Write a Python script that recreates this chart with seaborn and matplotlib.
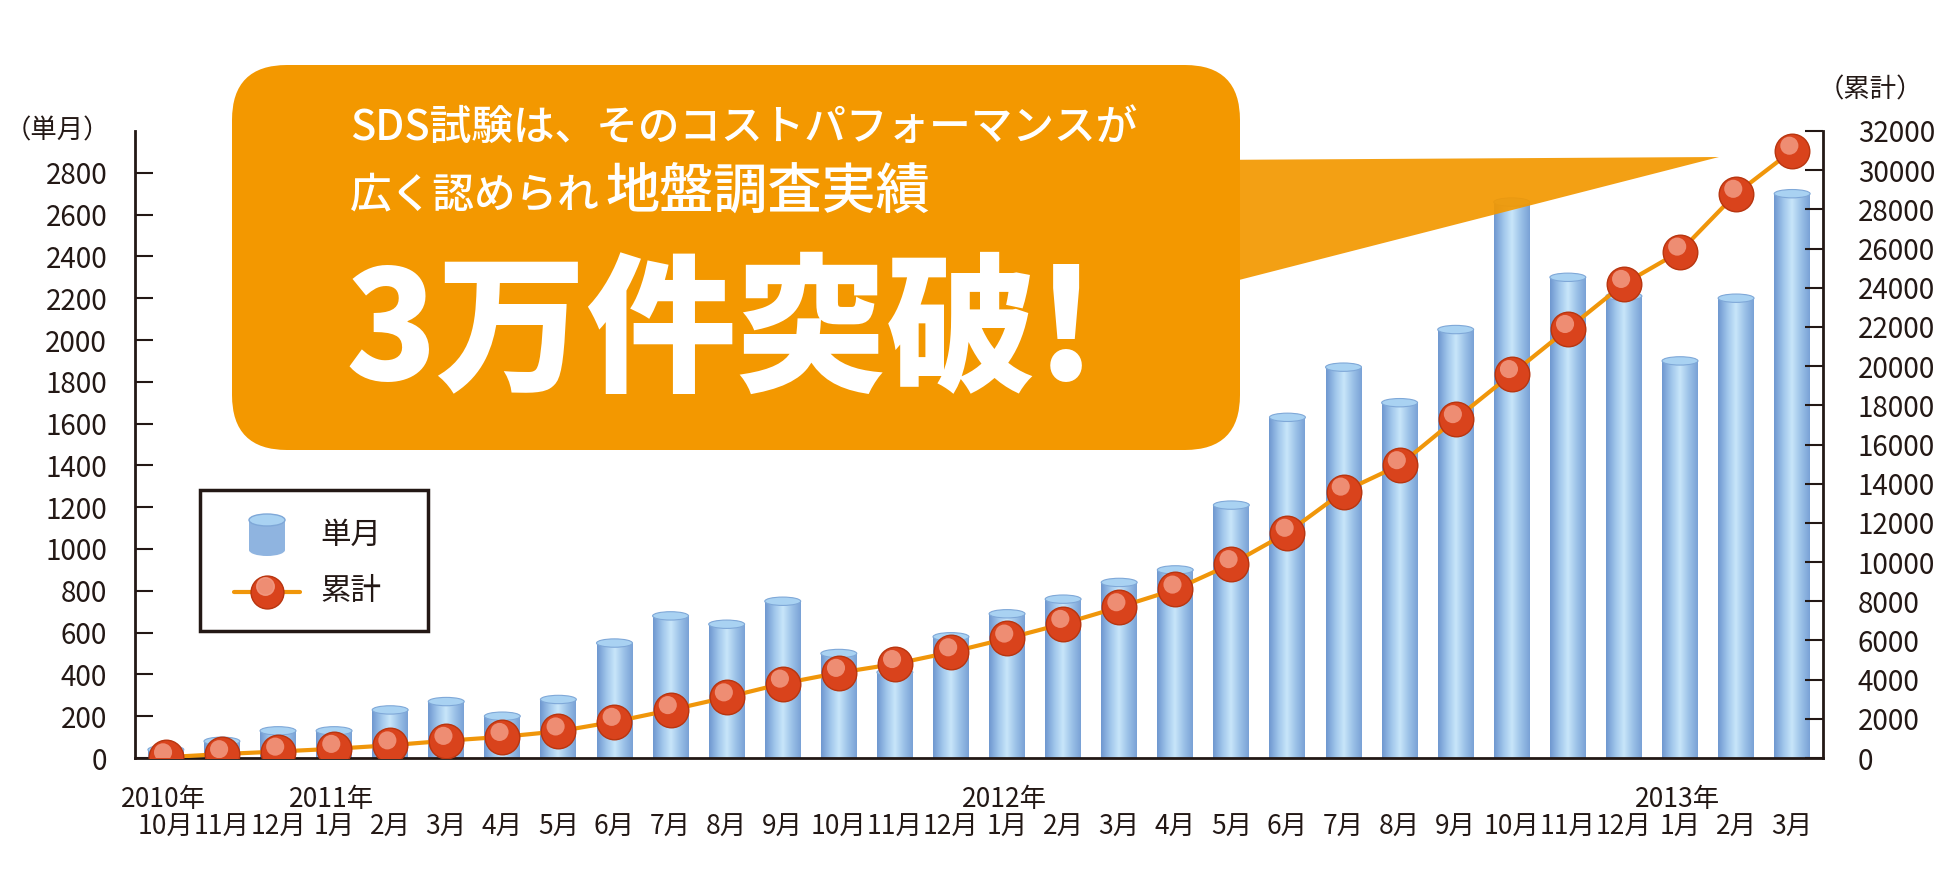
import numpy as np
import pandas as pd
import matplotlib
matplotlib.use("Agg")
import matplotlib.pyplot as plt
import seaborn as sns
from matplotlib.patches import Ellipse, FancyBboxPatch, Polygon, Rectangle
from matplotlib.colors import LinearSegmentedColormap

months = ["10月","11月","12月","1月","2月","3月","4月","5月","6月","7月","8月","9月",
          "10月","11月","12月","1月","2月","3月","4月","5月","6月","7月","8月","9月",
          "10月","11月","12月","1月","2月","3月"]
years = {0: "2010年", 3: "2011年", 15: "2012年", 27: "2013年"}
monthly = [40, 80, 130, 130, 230, 270, 200, 280, 550, 680, 640, 750, 500, 410, 580,
           690, 760, 840, 900, 1210, 1630, 1870, 1700, 2050, 2660, 2300, 2210, 1900, 2200, 2700]
cumulative = [40, 200, 330, 470, 650, 880, 1080, 1360, 1850, 2450, 3100, 3800, 4350, 4800, 5400,
              6100, 6850, 7700, 8600, 9900, 11500, 13600, 14950, 17300, 19600, 21900, 24200,
              25850, 28800, 31000]

sns.set_theme(style="white")
plt.rcParams['font.family'] = ['Noto Sans CJK JP', 'DejaVu Sans']
tc = '#231815'

fig = plt.figure(figsize=(19.54, 8.9), dpi=100)
ax = fig.add_axes([135/1954, 1-758/890, (1823-135)/1954, (758-131)/890])
df = pd.DataFrame({"idx": range(len(monthly)), "m": monthly, "c": cumulative})
sns.barplot(data=df, x="idx", y="m", ax=ax, width=0.64, color="#8fb4e0", saturation=1, zorder=2)

cmap = LinearSegmentedColormap.from_list("cyl", ["#6f98d0", "#9ec4ea", "#c8e6fa", "#9cc2e8", "#7aa2d6"])
grad = np.linspace(0, 1, 64).reshape(1, -1)
eh = 40
for p in list(ax.patches):
    x0, w, h = p.get_x(), p.get_width(), p.get_height()
    p.set_facecolor("none"); p.set_edgecolor("none")
    im = ax.imshow(grad, extent=[x0, x0 + w, 0, h], aspect='auto', cmap=cmap, zorder=2)
    im.set_clip_path(p)
    ax.add_patch(Ellipse((x0 + w/2, h), w, eh, facecolor="#a9d2f2", edgecolor="#7fa8d8", lw=0.8, zorder=3))
ax.set_xlim(-0.55, len(monthly) - 0.45)
ax.set_ylim(0, 3000)

ax.set_yticks(range(0, 2801, 200))
ax.tick_params(axis='y', direction='in', length=13, width=1.5, labelsize=20, colors=tc, pad=20, labelcolor=tc)
ax.set_xticks(range(len(months)))
ax.set_xticklabels(months, fontsize=19, color=tc)
ax.tick_params(axis='x', length=0, pad=40)
ax.set_xticks(np.arange(0.5, len(months) - 1, 1), minor=True)
ax.tick_params(axis='x', which='minor', direction='in', length=7, width=1.5, color=tc)
for s in ['left', 'bottom']:
    ax.spines[s].set_color(tc); ax.spines[s].set_linewidth(2)
for s in ['top', 'right']:
    ax.spines[s].set_visible(False)
ax.set_xlabel(""); ax.set_ylabel("")
for i, y in years.items():
    ax.text(i - 0.05, -0.045, y, transform=ax.get_xaxis_transform(), ha='center', va='top', fontsize=19, color=tc)
ax.text(-0.015, 1.0, "（単月）", transform=ax.transAxes, ha='right', va='center', fontsize=19, color=tc)

ax2 = ax.twinx()
sns.lineplot(data=df, x="idx", y="c", ax=ax2, color="#f0960a", lw=3, zorder=4)
ax2.scatter(df["idx"], df["c"], s=620, color="#d9431c", edgecolor="#b8350f", lw=1, zorder=5)
ax2.scatter(df["idx"] - 0.05, df["c"] + 250, s=170, color="#f4a08a", edgecolor="none", alpha=0.8, zorder=6)
ax2.set_ylim(0, 32000)
ax2.set_yticks(range(0, 32001, 2000))
ax2.tick_params(axis='y', direction='in', length=13, width=1.5, labelsize=20, colors=tc, pad=25, labelcolor=tc)
for lab in ax2.get_yticklabels():
    lab.set_ha('left')
for s in ['left', 'bottom', 'top']:
    ax2.spines[s].set_visible(False)
ax2.spines['right'].set_color(tc); ax2.spines['right'].set_linewidth(2)
ax2.set_ylabel(""); ax2.set_xlabel("")
ax2.set_xlim(-0.55, len(monthly) - 0.45)
fig.text(1870/1954, 1-90/890, "（累計）", ha='center', va='center', fontsize=19, color=tc)

ov = fig.add_axes([0, 0, 1, 1], zorder=10)
ov.set_xlim(0, 1954); ov.set_ylim(890, 0); ov.axis('off'); ov.patch.set_alpha(0)
orange = "#f39800"
ov.add_patch(Polygon([[1200, 160], [1719, 157], [1200, 290]], closed=True, facecolor=orange, edgecolor='none', alpha=0.92))
ov.add_patch(FancyBboxPatch((262, 95), 948, 325, boxstyle="round,pad=30,rounding_size=55", facecolor=orange, edgecolor='none'))
ov.text(350, 127, "SDS試験は、そのコストパフォーマンスが", fontsize=30, color='white', va='center', ha='left', fontweight='medium')
ov.text(350, 195, "広く認められ", fontsize=30, color='white', va='center', ha='left', fontweight='medium')
ov.text(605, 193, "地盤調査実績", fontsize=39, color='white', va='center', ha='left', fontweight='medium')
ov.text(345, 335, "3万件突破!", fontsize=108, color='white', va='center', ha='left', fontweight='heavy',
        family=['Noto Sans CJK JP'])

ov.add_patch(Rectangle((200, 490), 228, 141, facecolor='white', edgecolor=tc, lw=2.5))
ov.add_patch(Rectangle((249, 520), 36, 30, facecolor="#8fb4e0", edgecolor='none'))
ov.add_patch(Ellipse((267, 520), 36, 12, facecolor="#a9d2f2", edgecolor="#7fa8d8"))
ov.add_patch(Ellipse((267, 550), 36, 12, facecolor="#8fb4e0", edgecolor='none'))
ov.text(320, 535, "単月", fontsize=22, color=tc, va='center')
ov.plot([234, 300], [592, 592], color="#f0960a", lw=3)
ov.scatter([267], [592], s=560, color="#d9431c", edgecolor="#b8350f", zorder=11)
ov.scatter([265], [586], s=160, color="#f4a08a", alpha=0.8, zorder=12)
ov.text(320, 592, "累計", fontsize=22, color=tc, va='center')

fig.savefig("out.png", dpi=100)
